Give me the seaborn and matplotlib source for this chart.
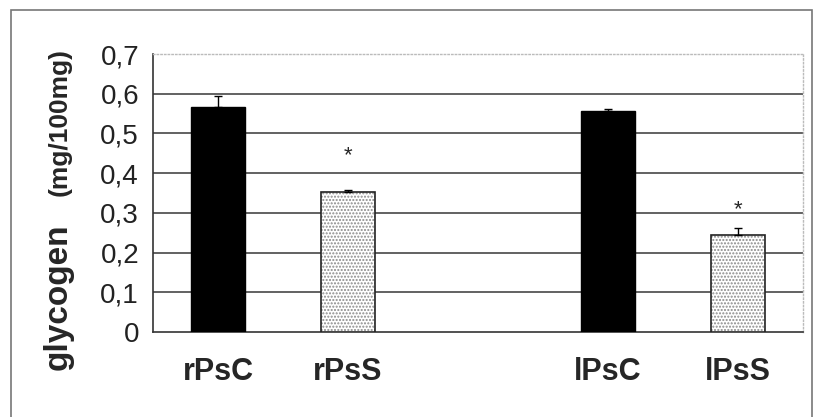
import matplotlib
matplotlib.use("Agg")
import matplotlib.pyplot as plt
import seaborn as sns
import pandas as pd
from matplotlib.patches import Rectangle

categories = ["rPsC", "rPsS", "", "lPsC", "lPsS"]
groups = ["rPsC", "rPsS", "lPsC", "lPsS"]
values = [0.567, 0.353, 0.557, 0.244]
errors = [0.027, 0.004, 0.004, 0.018]
stars = [None, 0.443, None, 0.307]
yticks = [0, 0.1, 0.2, 0.3, 0.4, 0.5, 0.6, 0.7]
ytick_labels = ["0", "0,1", "0,2", "0,3", "0,4", "0,5", "0,6", "0,7"]

sns.set_style("white")
plt.rcParams["font.family"] = ["Liberation Sans", "DejaVu Sans"]

df = pd.DataFrame({"group": groups, "value": values})
fig = plt.figure(figsize=(8.14, 4.17), dpi=100)
ax = fig.add_axes([153/814, 1-332/417, (803-153)/814, (332-54)/417])

sns.barplot(data=df, x="group", y="value", order=categories, ax=ax,
            color="black", width=0.42, errorbar=None, saturation=1, zorder=3)

hatched = {"rPsS", "lPsS"}
pos = {c: i for i, c in enumerate(categories)}
for p in list(ax.patches):
    cx = p.get_x() + p.get_width()/2
    idx = int(round(cx))
    name = categories[idx]
    if name in hatched:
        p.set_facecolor("white")
        p.set_edgecolor("#8a8a8a")
        p.set_hatch(".....")
        p.set_linewidth(0)
        outline = Rectangle((p.get_x(), p.get_y()), p.get_width(), p.get_height(),
                            fill=False, edgecolor="#222222", linewidth=1.2, zorder=4)
        ax.add_patch(outline)
    else:
        p.set_edgecolor("black")

xs = [pos[g] for g in groups]
ax.errorbar(xs, values, yerr=[[0]*len(values), errors], fmt="none",
            ecolor="black", elinewidth=1, capsize=3, capthick=1, zorder=5)
for x, s in zip(xs, stars):
    if s is not None:
        ax.text(x, s, "*", ha="center", va="center", fontsize=16, zorder=6)

ax.set_ylim(0, 0.7)
ax.set_xlim(-0.5, len(categories)-0.5)
ax.set_yticks(yticks)
ax.set_yticklabels(ytick_labels, fontsize=20, color="#222222")
ax.set_xticks([i - 0.5 for i in range(len(categories)+1)])
ax.set_xticklabels([""]*(len(categories)+1))
ax.set_xticks(range(len(categories)), minor=True)
ax.set_xticklabels(categories, minor=True, fontsize=22, fontweight="bold")
ax.tick_params(axis="x", which="minor", length=0, pad=18)
ax.tick_params(axis="x", which="major", direction="inout", length=13, width=1, color="#333333")
ax.tick_params(axis="y", direction="inout", length=14, width=1, color="#333333", pad=3)
ax.set_xlabel("")
ax.set_ylabel("")

for y in yticks[1:-1]:
    ax.axhline(y, color="#555555", linewidth=1.3, zorder=1)
for s in ["top", "right"]:
    ax.spines[s].set_color("#bbbbbb")
    ax.spines[s].set_linestyle(":")
    ax.spines[s].set_linewidth(1)
for s in ["left", "bottom"]:
    ax.spines[s].set_color("#333333")
    ax.spines[s].set_linewidth(1.2)

fig.text(58/814, 1-297/417, "glycogen", rotation=90, ha="center", va="center",
         fontsize=24, fontweight="bold")
fig.text(60/814, 1-122/417, "(mg/100mg)", rotation=90, ha="center", va="center",
         fontsize=19, fontweight="bold")

fig.patches.append(Rectangle((11/814, -0.01), 801/814, 1-10/417+0.01,
                             transform=fig.transFigure, fill=False,
                             edgecolor="#777777", linewidth=1.2))

fig.savefig("out.png", dpi=100)
